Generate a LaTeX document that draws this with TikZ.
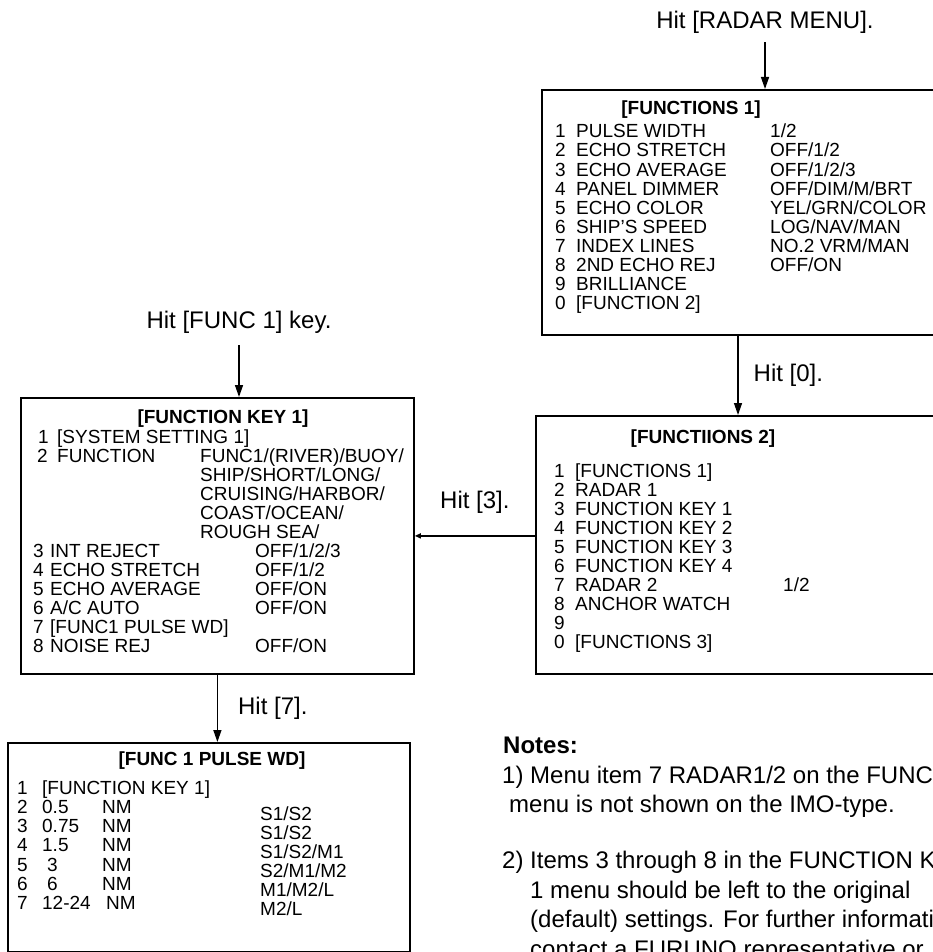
\documentclass[tikz,border=0pt]{standalone}
\usepackage{fontspec}
\setmainfont{Liberation Sans}
\usetikzlibrary{arrows.meta}
\newcommand{\itemno}[2][21pt]{\makebox[#1][l]{#2}}

\begin{document}
\begin{tikzpicture}[x=1pt, y=-1pt,
    menubox/.style={draw, line width=1.8pt, anchor=north west, inner sep=0},
    txt/.style={anchor=base west, inner sep=0, font=\fontsize{19}{19}\selectfont},
    ttl/.style={anchor=base, inner sep=0, font=\fontsize{19}{19}\selectfont\bfseries},
    hit/.style={inner sep=0, font=\fontsize{24}{24}\selectfont},
    note/.style={anchor=base west, inner sep=0, font=\fontsize{24}{24}\selectfont},
    arr/.style={-{Triangle[length=12pt,width=8pt]}, line width=1.4pt}]
        \useasboundingbox (0,0) rectangle (933,952);
        \clip (0,0) rectangle (933,952);

        % Рамки меню
        \node[menubox, minimum width=419pt, minimum height=245pt] (f1) at (541,89) {};
        \node[menubox, minimum width=425pt, minimum height=258pt] (f2) at (535,415) {};
        \node[menubox, minimum width=393pt, minimum height=276pt] (fk1) at (20,397) {};
        \node[menubox, minimum width=402pt, minimum height=209pt] (fpw) at (7,742) {};

        % Вход: Hit [RADAR MENU].
        \node[hit, anchor=base] (hitradar) at (765,29) {Hit [RADAR MENU].};
        \draw[arr, shorten <=8pt] (hitradar.south) -- (hitradar.south |- f1.north);

        % Вход: Hit [FUNC 1] key.
        \node[hit, anchor=base] (hitfunc) at (239,328) {Hit [FUNC 1] key.};
        \draw[arr, shorten <=12pt] (hitfunc.south) -- (hitfunc.south |- fk1.north);

        % Переходы между меню
        \draw[arr] ([xshift=197pt]f1.south west) -- ([xshift=197pt]f1.south west |- f2.north)
            node[hit, midway, anchor=west, xshift=15pt] (hit0) {Hit [0].};
        \draw[-{Triangle[length=6pt,width=5pt]}, line width=1.4pt] (fk1.east -| f2.west) -- (fk1.east)
            node[hit, midway, above=22pt] (hit3) {Hit [3].};
        \draw[arr] (fk1.south) -- (fk1.south |- fpw.north)
            node[hit, midway, anchor=west, xshift=20pt] (hit7) {Hit [7].};

        % Меню FUNCTIONS 1
        \node[ttl] (f1t) at (691,115) {[FUNCTIONS 1]};
        \node[txt] (f1r1) at (555,138) {\itemno{1}PULSE WIDTH}; \node[txt] (f1v1) at (770,138) {1/2};
        \node[txt] (f1r2) at (555,157) {\itemno{2}ECHO STRETCH}; \node[txt] (f1v2) at (770,157) {OFF/1/2};
        \node[txt] (f1r3) at (555,176) {\itemno{3}ECHO AVERAGE}; \node[txt] (f1v3) at (770,176) {OFF/1/2/3};
        \node[txt] (f1r4) at (555,195) {\itemno{4}PANEL DIMMER}; \node[txt] (f1v4) at (770,195) {OFF/DIM/M/BRT};
        \node[txt] (f1r5) at (555,214) {\itemno{5}ECHO COLOR}; \node[txt] (f1v5) at (770,214) {YEL/GRN/COLOR};
        \node[txt] (f1r6) at (555,233) {\itemno{6}SHIP'S SPEED}; \node[txt] (f1v6) at (770,233) {LOG/NAV/MAN};
        \node[txt] (f1r7) at (555,252) {\itemno{7}INDEX LINES}; \node[txt] (f1v7) at (770,252) {NO.2 VRM/MAN};
        \node[txt] (f1r8) at (555,271) {\itemno{8}2ND ECHO REJ}; \node[txt] (f1v8) at (770,271) {OFF/ON};
        \node[txt] (f1r9) at (555,290) {\itemno{9}BRILLIANCE};
        \node[txt] (f1r0) at (555,309) {\itemno{0}[FUNCTION 2]};

        % Меню FUNCTIONS 2
        \node[ttl] (f2t) at (703,443) {[FUNCTIIONS 2]};
        \node[txt] (f2r1) at (554,477) {\itemno{1}[FUNCTIONS 1]};
        \node[txt] (f2r2) at (554,496) {\itemno{2}RADAR 1};
        \node[txt] (f2r3) at (554,515) {\itemno{3}FUNCTION KEY 1};
        \node[txt] (f2r4) at (554,534) {\itemno{4}FUNCTION KEY 2};
        \node[txt] (f2r5) at (554,553) {\itemno{5}FUNCTION KEY 3};
        \node[txt] (f2r6) at (554,572) {\itemno{6}FUNCTION KEY 4};
        \node[txt] (f2r7) at (554,591) {\itemno{7}RADAR 2}; \node[txt] (f2v7) at (783,591) {1/2};
        \node[txt] (f2r8) at (554,610) {\itemno{8}ANCHOR WATCH};
        \node[txt] (f2r9) at (554,629) {\itemno{9}};
        \node[txt] (f2r0) at (554,648) {\itemno{0}[FUNCTIONS 3]};

        % Меню FUNCTION KEY 1
        \node[ttl] (fk1t) at (223,423) {[FUNCTION KEY 1]};
        \node[txt] (k1) at (38,443) {\itemno[19pt]{1}[SYSTEM SETTING 1]};
        \node[txt] (k2) at (37,462) {\itemno[20pt]{2}FUNCTION}; \node[txt] (k2a) at (200,462) {FUNC1/(RIVER)/BUOY/};
        \node[txt] (k2b) at (200,481) {SHIP/SHORT/LONG/};
        \node[txt] (k2c) at (200,500) {CRUISING/HARBOR/};
        \node[txt] (k2d) at (200,519) {COAST/OCEAN/};
        \node[txt] (k2e) at (200,538) {ROUGH SEA/};
        \node[txt] (k3) at (33,557) {\itemno[17pt]{3}INT REJECT}; \node[txt] (k3v) at (255,557) {OFF/1/2/3};
        \node[txt] (k4) at (33,576) {\itemno[17pt]{4}ECHO STRETCH}; \node[txt] (k4v) at (255,576) {OFF/1/2};
        \node[txt] (k5) at (33,595) {\itemno[17pt]{5}ECHO AVERAGE}; \node[txt] (k5v) at (255,595) {OFF/ON};
        \node[txt] (k6) at (33,614) {\itemno[17pt]{6}A/C AUTO}; \node[txt] (k6v) at (255,614) {OFF/ON};
        \node[txt] (k7) at (33,633) {\itemno[17pt]{7}[FUNC1 PULSE WD]};
        \node[txt] (k8) at (33,652) {\itemno[17pt]{8}NOISE REJ}; \node[txt] (k8v) at (255,652) {OFF/ON};

        % Меню FUNC 1 PULSE WD
        \node[ttl] (fpwt) at (212,765) {[FUNC 1 PULSE WD]};
        \node[txt] (p1) at (17,794) {\itemno[25pt]{1}[FUNCTION KEY 1]};
        \node[txt] (p2) at (17,813) {\itemno[25pt]{2}0.5}; \node[txt] (p2u) at (102,813) {NM}; \node[txt] (p2v) at (260,820) {S1/S2};
        \node[txt] (p3) at (17,832) {\itemno[25pt]{3}0.75}; \node[txt] (p3u) at (102,832) {NM}; \node[txt] (p3v) at (260,839) {S1/S2};
        \node[txt] (p4) at (17,851) {\itemno[25pt]{4}1.5}; \node[txt] (p4u) at (102,851) {NM}; \node[txt] (p4v) at (260,858) {S1/S2/M1};
        \node[txt] (p5) at (17,871) {\itemno[30pt]{5}3}; \node[txt] (p5u) at (102,871) {NM}; \node[txt] (p5v) at (260,877) {S2/M1/M2};
        \node[txt] (p6) at (17,890) {\itemno[30pt]{6}6}; \node[txt] (p6u) at (102,890) {NM}; \node[txt] (p6v) at (260,896) {M1/M2/L};
        \node[txt] (p7) at (17,909) {\itemno[25pt]{7}12-24}; \node[txt] (p7u) at (106,909) {NM}; \node[txt] (p7v) at (260,915) {M2/L};

        % Примечания
        \node[note, font=\fontsize{24}{24}\selectfont\bfseries] (notes) at (503,753) {Notes:};
        \node[note] (n1) at (502,783) {1) Menu item 7 RADAR1/2 on the FUNC};
        \node[note] (n1b) at (509,812) {menu is not shown on the IMO-type.};
        \node[note] (n2) at (502,868) {2) Items 3 through 8 in the FUNCTION K};
        \node[note] (n2b) at (530,898) {1 menu should be left to the original};
        \node[note] (n2c) at (530,927) {(default) settings. For further informati};
        \node[note] (n2d) at (530,957) {contact a FURUNO representative or};

    \end{tikzpicture}
\end{document}
